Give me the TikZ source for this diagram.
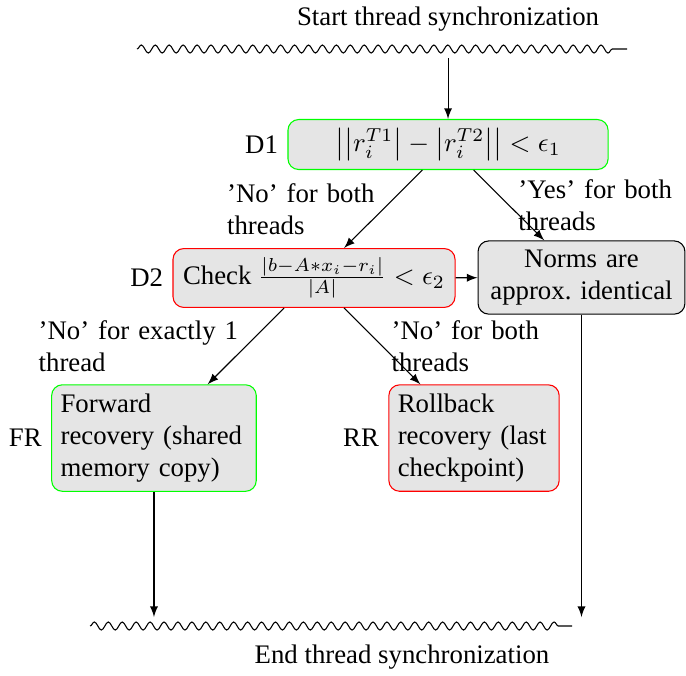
\documentclass[tikz,border=0pt]{standalone}
\usepackage[no-math]{fontspec}
\setmainfont{Liberation Serif}
\usetikzlibrary{arrows,decorations.pathmorphing}
\hyphenpenalty=10000
\exhyphenpenalty=10000

\begin{document}
\begin{tikzpicture}[>=latex]

		\tikzstyle{box}=[draw,rounded corners,fill=gray!20,inner sep=3.33pt]
		\tikzstyle{okbox}=[box,draw=green]
		\tikzstyle{badbox}=[box,draw=red]
		\tikzstyle{sync}=[decorate,decoration={snake,segment length=5.2pt,amplitude=1.5pt,post length=4pt}]
		\tikzstyle{flow}=[->]
		\tikzstyle{cond}=[text width=2.1cm]

		\useasboundingbox (0,0) rectangle (9.0,-8.856);

		% start of the synchronization
		\node (start) at (5.878,-0.247) {Start thread synchronization};
		\coordinate (syncl) at (1.797,-0.643);
		\coordinate (syncr) at (8.226,-0.643);
		\draw[sync] (syncl) -- (syncr);
		\coordinate (top) at (5.878,-0.761);

		% decisions
		\node[okbox,minimum width=4.2cm,label={left:D1}] (D1) at (5.878,-1.896) {$\big|\big|r_i^{T1}\big|-\big|r_i^{T2}\big|\big|<\epsilon_1$};
		\node[badbox,minimum width=3.7cm,minimum height=0.76cm,label={left:D2}] (D2) at (4.120,-3.647) {Check $\frac{|b-A*x_i-r_i|}{|A|}<\epsilon_2$};
		\node[box,text width=2.48cm,align=center] (norms) at (7.629,-3.641) {Norms are approx.\ identical};

		% recovery
		\node[okbox,text width=2.45cm,label={left:FR}] (FR) at (2.020,-5.747) {Forward recovery (shared memory copy)};
		\node[badbox,text width=2cm,label={left:RR}] (RR) at (6.219,-5.747) {Rollback recovery (last checkpoint)};

		% end of the synchronization
		\coordinate (endl) at (1.181,-8.213);
		\coordinate (endr) at (7.505,-8.213);
		\draw[sync] (endl) -- (endr);
		\node (stop) at (5.274,-8.620) {End thread synchronization};
		\coordinate (frend) at (2.020,-8.095);
		\coordinate (nend) at (7.629,-8.095);

		\draw[flow] (top) -- (D1);
		\draw[flow] (D1) -- node[midway,left,cond,xshift=5pt] {'No' for both threads} (D2);
		\draw[flow] (D1) -- node[midway,right,cond] {'Yes' for both threads} (norms);
		\draw[flow] (D2) -- (norms);
		\draw[flow] (D2) -- node[midway,left,text width=2.7cm,xshift=3pt] {'No' for exactly 1 thread} (FR);
		\draw[flow] (D2) -- node[midway,right,cond] {'No' for both threads} (RR);
		\draw[flow] (FR) -- (frend);
		\draw[flow] (norms) -- (nend);

\end{tikzpicture}
\end{document}
